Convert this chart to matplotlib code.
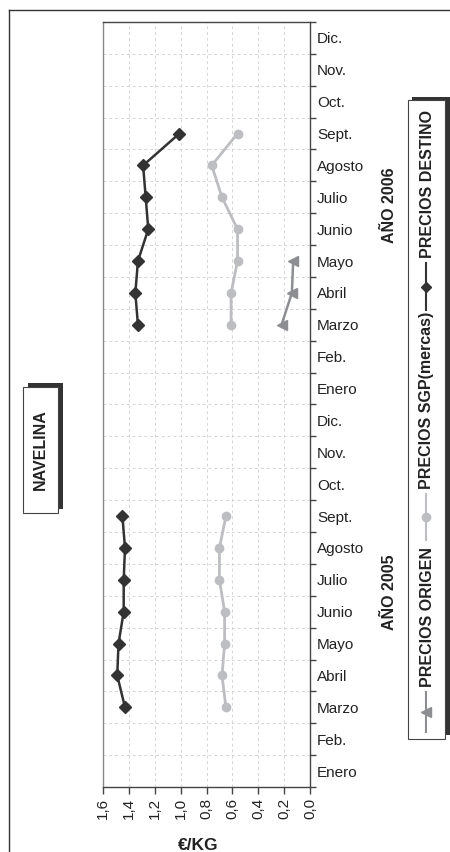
import numpy as np
import matplotlib
matplotlib.use("Agg")
import matplotlib.pyplot as plt
from matplotlib.patches import Rectangle
from matplotlib.lines import Line2D

plt.rcParams['font.family'] = ['Liberation Sans', 'DejaVu Sans']

# Datos (€/KG) - Enero 2005 ... Dic. 2006
meses = ["Enero", "Feb.", "Marzo", "Abril", "Mayo", "Junio",
         "Julio", "Agosto", "Sept.", "Oct.", "Nov.", "Dic."]
etiquetas = meses + meses
nan = np.nan
precios_origen = [nan, nan, nan, nan, nan, nan, nan, nan, nan, nan, nan, nan,
                  nan, nan, 0.22, 0.14, 0.13, nan, nan, nan, nan, nan, nan, nan]
precios_sgp = [nan, nan, 0.65, 0.68, 0.66, 0.66, 0.70, 0.70, 0.65, nan, nan, nan,
               nan, nan, 0.61, 0.61, 0.56, 0.56, 0.68, 0.76, 0.56, nan, nan, nan]
precios_destino = [nan, nan, 1.43, 1.49, 1.48, 1.44, 1.44, 1.43, 1.45, nan, nan, nan,
                   nan, nan, 1.33, 1.35, 1.33, 1.25, 1.27, 1.29, 1.01, nan, nan, nan]
valores_eje = [0.0, 0.2, 0.4, 0.6, 0.8, 1.0, 1.2, 1.4, 1.6]

W, H = 450, 852
col_origen = "#8c8e92"
col_sgp = "#bdbec1"
col_destino = "#333333"


def fx(x):
    return x / W


def fy(y):
    return 1 - y / H


fig = plt.figure(figsize=(4.5, 8.52), dpi=100)

# marco exterior
fig.add_artist(Line2D([fx(9), fx(450)], [fy(10), fy(10)], color="#333333", lw=1))
fig.add_artist(Line2D([fx(9), fx(9)], [fy(10), fy(852)], color="#333333", lw=1))

ax = fig.add_axes([fx(103), fy(787), 207 / W, 765 / H])
pos = np.arange(len(etiquetas))

ax.plot(precios_origen, pos, color=col_origen, lw=1.8, marker="<", ms=7, zorder=3)
ax.plot(precios_sgp, pos, color=col_sgp, lw=2.0, marker="o", ms=6, zorder=3)
ax.plot(precios_destino, pos, color=col_destino, lw=1.8, marker="D", ms=6, zorder=4)

ax.set_xlim(1.6, 0)
ax.set_ylim(-0.5, len(etiquetas) - 0.5)

ax.set_xticks(valores_eje)
ax.set_xticklabels([f"{v:.1f}".replace(".", ",") for v in valores_eje],
                   rotation=90, fontsize=11, color="#222222")
ax.tick_params(axis="x", direction="out", length=5, width=1, color="#444444", pad=3)

ax.yaxis.tick_right()
ax.set_yticks(pos)
ax.set_yticklabels(etiquetas, fontsize=11, color="#222222")
ax.set_yticks(np.arange(-0.5, len(etiquetas), 1), minor=True)
ax.tick_params(axis="y", which="major", length=0, pad=5)
ax.tick_params(axis="y", which="minor", direction="out", length=4, width=1,
               color="#444444", right=True, left=False)

ax.grid(axis="x", which="major", ls=(0, (3, 3)), color="#d5d5d5", lw=0.7)
ax.grid(axis="y", which="minor", ls=(0, (3, 3)), color="#d5d5d5", lw=0.7)
ax.grid(axis="y", which="major", visible=False)

for lado in ["top", "right", "bottom"]:
    ax.spines[lado].set_color("#444444")
    ax.spines[lado].set_linewidth(1)
ax.spines["left"].set_color("#888888")
ax.spines["left"].set_linewidth(1)

fig.text(fx(198), fy(845), "€/KG", fontsize=12.5, fontweight="bold",
         ha="center", va="center", color="#222222")

# titulo
fig.add_artist(Rectangle((fx(28), fy(509)), 35 / W, 126 / H, transform=fig.transFigure,
                         facecolor="#333333", edgecolor="none"))
fig.add_artist(Rectangle((fx(23), fy(513)), 35 / W, 126 / H, transform=fig.transFigure,
                         facecolor="white", edgecolor="#444444", lw=0.8))
fig.text(fx(40.5), fy(450), "NAVELINA", rotation=90, fontsize=11.5, fontweight="bold",
         ha="center", va="center", color="#222222")

# años
fig.text(fx(389), fy(592), "AÑO 2005", rotation=90, fontsize=11.5, fontweight="bold",
         ha="center", va="center", color="#222222")
fig.text(fx(389), fy(205), "AÑO 2006", rotation=90, fontsize=11.5, fontweight="bold",
         ha="center", va="center", color="#222222")

# leyenda
fig.add_artist(Rectangle((fx(412), fy(735)), 38 / W, 638 / H, transform=fig.transFigure,
                         facecolor="#333333", edgecolor="none"))
fig.add_artist(Rectangle((fx(408), fy(739)), 37 / W, 639 / H, transform=fig.transFigure,
                         facecolor="white", edgecolor="#444444", lw=0.8))
entradas = [
    ("PRECIOS ORIGEN", col_origen, "<", 7, 732, 692),
    ("PRECIOS SGP(mercas)", col_sgp, "o", 6, 540, 494),
    ("PRECIOS DESTINO", col_destino, "D", 5.5, 310, 263),
]
for texto, col, mk, ms, y0, y1 in entradas:
    fig.add_artist(Line2D([fx(426), fx(426)], [fy(y0), fy(y1)], color=col, lw=1.5))
    fig.add_artist(Line2D([fx(426)], [fy((y0 + y1) / 2)], color=col, marker=mk, ms=ms, lw=0))
    fig.text(fx(427), fy(y1 - 5), texto, rotation=90, fontsize=11.5, fontweight="bold",
             ha="center", va="bottom", color="#222222")

fig.savefig("out.png", dpi=100)
